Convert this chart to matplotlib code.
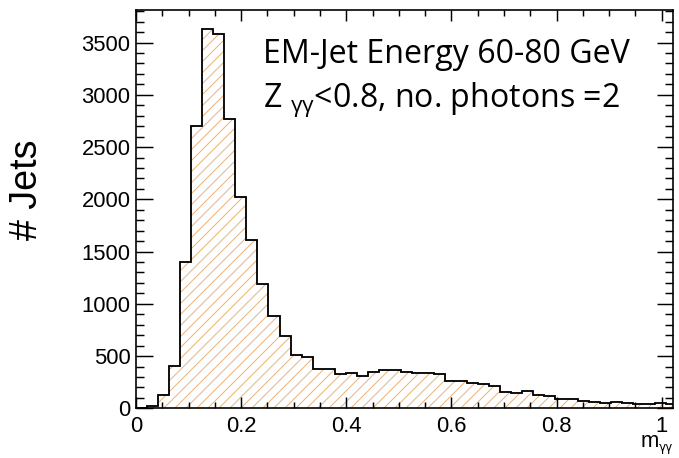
import numpy as np
import matplotlib
matplotlib.use("Agg")
import matplotlib.pyplot as plt
from matplotlib.ticker import MultipleLocator

# histogram of m_gammagamma, 49 bins of width 0.021 starting at 0
bin_width = 0.021
counts = [3, 25, 127, 404, 1402, 2702, 3630, 3578, 2766, 2023,
          1609, 1185, 885, 691, 507, 490, 375, 375, 328, 341,
          312, 350, 366, 368, 350, 341, 341, 328, 262, 262,
          245, 232, 213, 160, 150, 165, 130, 114, 92, 92,
          72, 57, 48, 64, 55, 45, 42, 50, 39]
edges = np.arange(len(counts) + 1) * bin_width

title_lines = ["EM-Jet Energy 60-80 GeV", r"Z $_{\mathregular{γγ}}$<0.8, no. photons =2"]
ylabel = "# Jets"
xlabel_main, xlabel_sub = "m", "γγ"

DPI = 132
W, H = 679, 458
plt.rcParams["font.family"] = ["Liberation Sans", "DejaVu Sans"]
plt.rcParams["hatch.linewidth"] = 0.55

fig = plt.figure(figsize=(W / DPI, H / DPI), dpi=DPI)
ax = fig.add_axes([136 / W, 1 - 408.3 / H, (672.7 - 136) / W, (408.3 - 10) / H])

ax.stairs(counts, edges, fill=True, facecolor="white", edgecolor="#e9b47c",
          hatch="////", lw=0)
ax.stairs(counts, edges, color="black", lw=1.0)

ax.set_xlim(0, 1.021)
ax.set_ylim(0, max(counts) * 1.05)
ax.xaxis.set_major_locator(MultipleLocator(0.2))
ax.xaxis.set_minor_locator(MultipleLocator(0.05))
ax.yaxis.set_major_locator(MultipleLocator(500))
ax.yaxis.set_minor_locator(MultipleLocator(100))
ax.xaxis.set_major_formatter(lambda v, p: f"{v:g}")

ax.tick_params(axis="both", which="both", direction="in", top=True, right=True,
               width=0.8, labelsize=12, color="black")
ax.tick_params(axis="y", which="major", length=9, pad=3.0)
ax.tick_params(axis="y", which="minor", length=4.5)
ax.tick_params(axis="x", which="major", length=6, pad=4.0)
ax.tick_params(axis="x", which="minor", length=3.3)
for s in ax.spines.values():
    s.set_linewidth(0.9)

fig.text(263 / W, 1 - 63 / H, title_lines[0], family="Open Sans", fontsize=17.5,
         va="baseline", ha="left")
fig.text(263 / W, 1 - 107 / H, title_lines[1], family="Open Sans", fontsize=17.5,
         va="baseline", ha="left")

fig.text(27 / W, 1 - 190 / H, ylabel, rotation=90, fontsize=20.5, va="center", ha="center")
fig.text(641 / W, 1 - 447 / H, xlabel_main, fontsize=12, va="baseline", ha="left")
fig.text(659 / W, 1 - 451 / H, xlabel_sub, fontsize=6.5, va="baseline", ha="left",
         family=["DejaVu Sans"])

fig.savefig("out.png", dpi=DPI)
